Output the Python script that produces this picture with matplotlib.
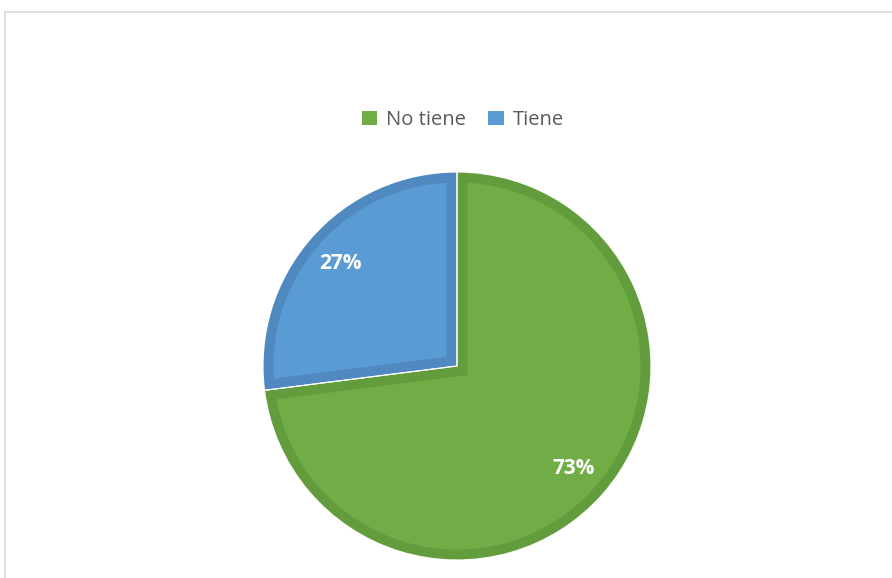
import matplotlib
matplotlib.use("Agg")
import matplotlib.pyplot as plt
from matplotlib.lines import Line2D
from matplotlib.patches import Patch

# ── Data ─────────────────────────────────────────────────────────────
categories = ["No tiene", "Tiene"]
shares = [73, 27]
colors = ["#70AD47", "#5B9BD5"]
border_colors = ["#639C3D", "#5089C0"]

W, H = 892, 578
fig = plt.figure(figsize=(W / 100, H / 100), dpi=100)
fig.patch.set_facecolor("white")

# pie centered at (457, 366) px, radius 194 px
cx, cy, r = 457, 366, 194
ax = fig.add_axes([(cx - r) / W, (H - cy - r) / H, 2 * r / W, 2 * r / H])

wedges, _, autotexts = ax.pie(
    shares, colors=colors, startangle=90, counterclock=False,
    autopct="%1.0f%%", pctdistance=0.8,
    textprops=dict(color="white", fontsize=15, fontweight="bold", family="Open Sans"),
)

# inner darker border on each slice: a wide stroke clipped to the wedge itself
for w, ec in zip(wedges, border_colors):
    w.set_edgecolor(ec)
    w.set_linewidth(15)
    w.set_clip_on(True)
    w.set_clip_path(w)

# thin white separators between slices
ax.pie(shares, colors=["none", "none"], startangle=90, counterclock=False,
       wedgeprops=dict(edgecolor="white", linewidth=0.8, facecolor="none"))

ax.set_xlim(-1, 1)
ax.set_ylim(-1, 1)
ax.set_aspect("equal")
ax.axis("off")

# legend across the top
handles = [Patch(facecolor=c, edgecolor="none") for c in colors]
fig.legend(handles, categories, loc="center", bbox_to_anchor=(463 / W, 1 - 120 / H),
           ncol=2, frameon=False, handlelength=0.75, handleheight=0.75,
           handletextpad=0.45, columnspacing=1.1,
           prop=dict(family="Open Sans", size=14.5), labelcolor="#595959")

# chart area outline (left and top edges)
fig.add_artist(Line2D([5 / W, 5 / W], [0, 1 - 12 / H], color="#D9D9D9", lw=1.2,
                      transform=fig.transFigure))
fig.add_artist(Line2D([5 / W, 1], [1 - 12 / H, 1 - 12 / H], color="#D9D9D9", lw=1.2,
                      transform=fig.transFigure))

fig.savefig("out.png", dpi=100)
